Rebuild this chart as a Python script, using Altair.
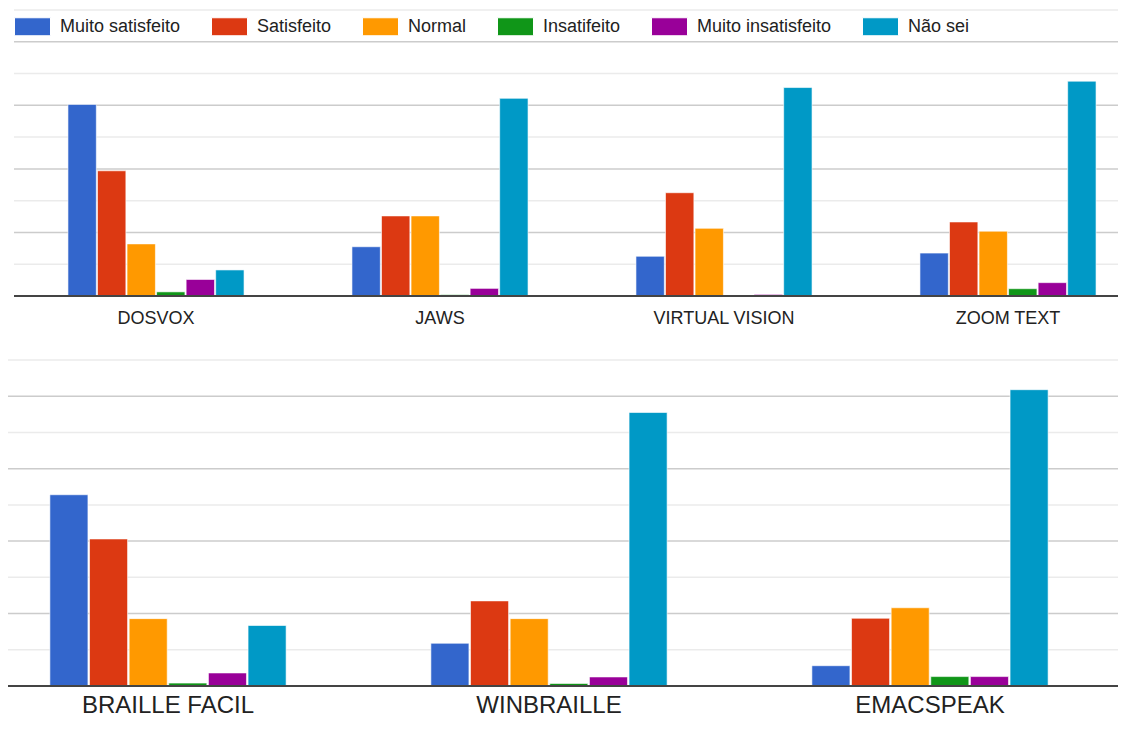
import altair as alt
import pandas as pd

series = ["Muito satisfeito", "Satisfeito", "Normal", "Insatifeito", "Muito insatisfeito", "Não sei"]
colors = ["#3366CC", "#DC3912", "#FF9900", "#109618", "#990099", "#0099C6"]

top_tools = ["DOSVOX", "JAWS", "VIRTUAL VISION", "ZOOM TEXT"]
bottom_tools = ["BRAILLE FACIL", "WINBRAILLE", "EMACSPEAK"]

dosvox = [60.3, 39.4, 16.4, 1.3, 5.2, 8.2]
jaws = [15.5, 25.2, 25.2, 0.4, 2.4, 62.2]
virtual_vision = [12.5, 32.5, 21.3, 0.1, 0.5, 65.6]
zoom_text = [13.5, 23.3, 20.4, 2.3, 4.2, 67.6]
braille_facil = [52.8, 40.6, 18.6, 0.8, 3.6, 16.7]
winbraille = [11.8, 23.5, 18.6, 0.7, 2.5, 75.5]
emacspeak = [5.6, 18.7, 21.6, 2.6, 2.6, 81.8]

grid_values = [10, 20, 30, 40, 50, 60, 70, 80, 90]
y_max = 90

FONT = "Liberation Sans"
W, H = 1110, 712


def frame(tools, values_list):
    rows = []
    for tool, vals in zip(tools, values_list):
        for s, v in zip(series, vals):
            rows.append({"tool": tool, "series": s, "value": v})
    return pd.DataFrame(rows)


top_df = frame(top_tools, [dosvox, jaws, virtual_vision, zoom_text])
bottom_df = frame(bottom_tools, [braille_facil, winbraille, emacspeak])


def panel(df, tools, xrange, yrange, grid_x, label_y, label_size):
    xs = alt.Scale(domain=tools, range=xrange, paddingInner=0.38, paddingOuter=0.19)
    ys = alt.Scale(domain=[0, y_max], range=yrange, nice=False, zero=True)

    grid = alt.Chart(pd.DataFrame({"v": grid_values})).mark_rule(strokeWidth=1.5).encode(
        y=alt.Y("v:Q", scale=ys, axis=None),
        x=alt.value(grid_x[0]), x2=alt.value(grid_x[1]),
        color=alt.condition("datum.v % 20 === 0", alt.value("#cccccc"), alt.value("#ebebeb")),
    )

    bars = alt.Chart(df).mark_bar(stroke="white", strokeWidth=1, strokeOpacity=0.6).encode(
        x=alt.X("tool:N", sort=tools, scale=xs, axis=None),
        xOffset=alt.XOffset("series:N", sort=series, scale=alt.Scale(domain=series, paddingInner=0.04)),
        y=alt.Y("value:Q", scale=ys, axis=None),
        color=alt.Color(
            "series:N", sort=series,
            scale=alt.Scale(domain=series, range=colors),
            legend=alt.Legend(title=None, orient="none", legendX=6, legendY=0, direction="horizontal",
                              columns=6, symbolType="M-1,-0.5H1V0.5H-1Z", symbolSize=1296,
                              symbolStrokeWidth=1, labelFontSize=18, labelFont=FONT,
                              labelColor="#222222", labelOffset=9, columnPadding=28,
                              symbolOpacity=1),
        ),
    )

    base = alt.Chart(pd.DataFrame({"v": [0]})).mark_rule(strokeWidth=2, color="#444444").encode(
        y=alt.Y("v:Q", scale=ys, axis=None),
        x=alt.value(grid_x[0]), x2=alt.value(grid_x[1]),
    )

    labels = alt.Chart(pd.DataFrame({"tool": tools})).mark_text(
        fontSize=label_size, font=FONT, color="#222222", baseline="alphabetic", align="center"
    ).encode(
        x=alt.X("tool:N", sort=tools, scale=xs, axis=None),
        y=alt.value(label_y),
        text="tool:N",
    )
    return [grid, bars, base, labels]


top_layers = panel(top_df, top_tools, [6, 1142], [288, 2], [6, W], 316, 18)
bottom_layers = panel(bottom_df, bottom_tools, [-30.5, 1112.5], [678, 352], [0, W], 705, 24)

chart = alt.layer(*(top_layers + bottom_layers)).resolve_scale(
    x="independent", y="independent", xOffset="independent", color="shared"
).properties(
    width=W, height=H, padding=0, autosize=alt.AutoSizeParams(type="none")
).configure(font=FONT).configure_view(stroke=None)

chart.save("out.html", embed_options={"renderer": "svg", "actions": False})
